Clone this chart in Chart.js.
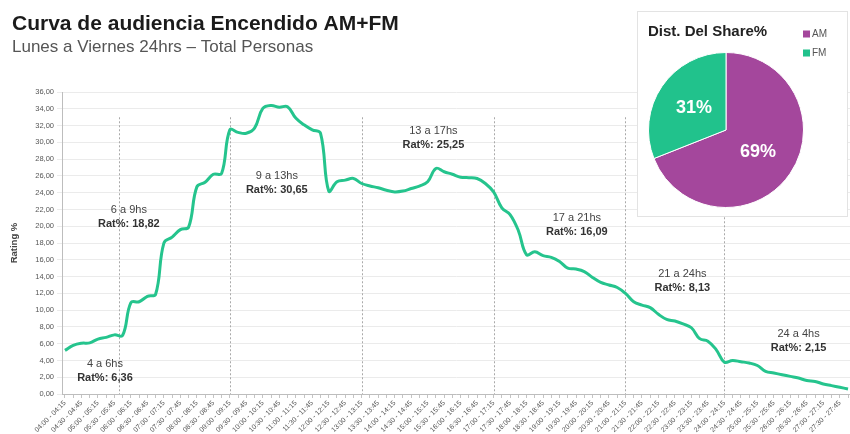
<!DOCTYPE html>
<html lang="es">
<head>
<meta charset="utf-8">
<title>Curva de audiencia Encendido AM+FM</title>
<script src="https://cdn.jsdelivr.net/npm/chart.js@4.4.1/dist/chart.umd.min.js"></script>
<style>
  html, body { margin: 0; padding: 0; background: #fff; overflow: hidden; }
  #wrap { position: relative; width: 850px; height: 434px; }
  #curva { position: absolute; left: 0; top: 0; }
  #share { position: absolute; left: 637px; top: 11px; width: 211px; height: 206px;
           background: #fff; border: 1px solid #e3e3e3; box-sizing: border-box; }
  #torta { display: block; }
</style>
</head>
<body>
<div id="wrap">
  <canvas id="curva" width="850" height="434"></canvas>
  <div id="share"><canvas id="torta" width="209" height="204"></canvas></div>
</div>
<script>
// Franjas de 15 minutos, de 04:00 a 28:00 (04:00 del día siguiente)
const franjas = [
  "04:00 - 04:15","04:15 - 04:30","04:30 - 04:45","04:45 - 05:00",
  "05:00 - 05:15","05:15 - 05:30","05:30 - 05:45","05:45 - 06:00",
  "06:00 - 06:15","06:15 - 06:30","06:30 - 06:45","06:45 - 07:00",
  "07:00 - 07:15","07:15 - 07:30","07:30 - 07:45","07:45 - 08:00",
  "08:00 - 08:15","08:15 - 08:30","08:30 - 08:45","08:45 - 09:00",
  "09:00 - 09:15","09:15 - 09:30","09:30 - 09:45","09:45 - 10:00",
  "10:00 - 10:15","10:15 - 10:30","10:30 - 10:45","10:45 - 11:00",
  "11:00 - 11:15","11:15 - 11:30","11:30 - 11:45","11:45 - 12:00",
  "12:00 - 12:15","12:15 - 12:30","12:30 - 12:45","12:45 - 13:00",
  "13:00 - 13:15","13:15 - 13:30","13:30 - 13:45","13:45 - 14:00",
  "14:00 - 14:15","14:15 - 14:30","14:30 - 14:45","14:45 - 15:00",
  "15:00 - 15:15","15:15 - 15:30","15:30 - 15:45","15:45 - 16:00",
  "16:00 - 16:15","16:15 - 16:30","16:30 - 16:45","16:45 - 17:00",
  "17:00 - 17:15","17:15 - 17:30","17:30 - 17:45","17:45 - 18:00",
  "18:00 - 18:15","18:15 - 18:30","18:30 - 18:45","18:45 - 19:00",
  "19:00 - 19:15","19:15 - 19:30","19:30 - 19:45","19:45 - 20:00",
  "20:00 - 20:15","20:15 - 20:30","20:30 - 20:45","20:45 - 21:00",
  "21:00 - 21:15","21:15 - 21:30","21:30 - 21:45","21:45 - 22:00",
  "22:00 - 22:15","22:15 - 22:30","22:30 - 22:45","22:45 - 23:00",
  "23:00 - 23:15","23:15 - 23:30","23:30 - 23:45","23:45 - 24:00",
  "24:00 - 24:15","24:15 - 24:30","24:30 - 24:45","24:45 - 25:00",
  "25:00 - 25:15","25:15 - 25:30","25:30 - 25:45","25:45 - 26:00",
  "26:00 - 26:15","26:15 - 26:30","26:30 - 26:45","26:45 - 27:00",
  "27:00 - 27:15","27:15 - 27:30","27:30 - 27:45","27:45 - 28:00"
];

// Rating % por franja (Lunes a Viernes, Total Personas)
const rating = [
   5.20,  5.80,  6.05,  6.10,  6.55,  6.75,  7.05,  7.00,
  10.90, 11.00, 11.65, 11.90, 18.00, 18.70, 19.60, 19.90,
  24.70, 25.25, 26.20, 26.30, 31.50, 31.20, 31.10, 31.70,
  34.05, 34.40, 34.20, 34.25, 32.90, 32.10, 31.50, 31.10,
  24.20, 25.30, 25.50, 25.70, 25.10, 24.80, 24.60, 24.30,
  24.10, 24.20, 24.50, 24.80, 25.30, 26.90, 26.50, 26.20,
  25.85, 25.80, 25.70, 25.10, 24.10, 22.20, 21.40, 19.50,
  16.60, 16.95, 16.50, 16.30, 15.80, 15.00, 14.90, 14.60,
  13.90, 13.30, 13.00, 12.70, 12.00, 11.00, 10.60, 10.30,
   9.50,  8.90,  8.70,  8.35,  7.90,  6.60,  6.30,  5.30,
   3.80,  4.00,  3.85,  3.70,  3.40,  2.70,  2.50,  2.30,
   2.10,  1.90,  1.60,  1.50,  1.20,  1.00,  0.80,  0.60
];

// Bloques horarios y su rating promedio
const bloques = ["4 a 6hs", "6 a 9hs", "9 a 13hs", "13 a 17hs", "17 a 21hs", "21 a 24hs", "24 a 4hs"];
const ratingBloque = [6.36, 18.82, 30.65, 25.25, 16.09, 8.13, 2.15];

// Distribución del share
const shareLabels = ["AM", "FM"];
const shareValues = [69, 31];

// ---- presentación ----
const FUENTE = '"Liberation Sans", Arial, Helvetica, sans-serif';
Chart.defaults.font.family = FUENTE;

const VERDE = '#25c48d';
const VIOLETA = '#a4479c';
const coma = (v) => v.toFixed(2).replace('.', ',');

// separadores de bloque (en unidades del eje x) y altura en que arrancan
const separadores = [6.6, 20, 36, 52, 68, 80];
const topeSeparador = 33;
// anclaje de cada rótulo de bloque: [franja, rating]
const anclaRotulo = [[4.85, 3.6], [7.75, 22.0], [25.7, 26.0], [44.7, 31.4], [62.1, 21.0], [74.9, 14.3], [89.0, 7.2]];

const lineasBloque = {
  id: 'lineasBloque',
  beforeDatasetsDraw(chart) {
    const { ctx, scales: { x, y } } = chart;
    ctx.save();
    ctx.strokeStyle = '#a9a9a9';
    ctx.lineWidth = 1;
    ctx.setLineDash([2, 2]);
    separadores.forEach((p) => {
      const px = Math.round(x.getPixelForValue(p)) + 0.5;
      ctx.beginPath();
      ctx.moveTo(px, y.getPixelForValue(topeSeparador));
      ctx.lineTo(px, y.getPixelForValue(0));
      ctx.stroke();
    });
    ctx.restore();
  }
};

const rotulosBloque = {
  id: 'rotulosBloque',
  afterDatasetsDraw(chart) {
    const { ctx, scales: { x, y } } = chart;
    ctx.save();
    ctx.textAlign = 'center';
    ctx.textBaseline = 'middle';
    bloques.forEach((b, i) => {
      const px = x.getPixelForValue(anclaRotulo[i][0]);
      const py = y.getPixelForValue(anclaRotulo[i][1]);
      ctx.fillStyle = '#444';
      ctx.font = '11px ' + FUENTE;
      ctx.fillText(b, px, py);
      ctx.fillStyle = '#333';
      ctx.font = 'bold 11px ' + FUENTE;
      ctx.fillText('Rat%: ' + coma(ratingBloque[i]), px, py + 14);
    });
    ctx.restore();
  }
};

new Chart(document.getElementById('curva'), {
  type: 'line',
  data: {
    datasets: [{
      data: rating.map((v, i) => ({ x: i, y: v })),
      borderColor: VERDE,
      borderWidth: 3,
      tension: 0.4,
      pointRadius: 0,
      fill: false
    }]
  },
  options: {
    responsive: false,
    animation: false,
    events: [],
    layout: { padding: { left: 12, right: 0, top: 0, bottom: 0 } },
    plugins: {
      legend: { display: false },
      tooltip: { enabled: false },
      title: {
        display: true, align: 'start', text: 'Curva de audiencia Encendido AM+FM',
        color: '#1b1b1b', font: { size: 21, weight: 'bold' }, padding: { top: 11.5, bottom: 0 }
      },
      subtitle: {
        display: true, align: 'start', text: 'Lunes a Viernes 24hrs \u2013 Total Personas',
        color: '#555', font: { size: 17 }, padding: { top: 0, bottom: 35 }
      }
    },
    scales: {
      x: {
        type: 'linear', min: -0.36, max: 95.24,
        afterFit(s) { s.height = 40; s.paddingLeft = 0; s.paddingRight = 0; },
        grid: { drawOnChartArea: false, drawTicks: true, tickLength: 4, color: '#c4c4c4' },
        border: { color: '#bdbdbd' },
        ticks: {
          stepSize: 1, autoSkip: false, includeBounds: false,
          minRotation: 45, maxRotation: 45, padding: 1,
          color: '#555', font: { size: 7 },
          callback: (v) => (Number.isInteger(v) && v % 2 === 0) ? franjas[v] : ''
        }
      },
      y: {
        min: 0, max: 36,
        afterFit(s) { s.width = 50; s.paddingTop = 0; s.paddingBottom = 0; },
        grid: { color: '#ebebeb', tickLength: 5 },
        border: { color: '#bdbdbd' },
        ticks: { stepSize: 2, padding: 3, color: '#555', font: { size: 7.5 }, callback: (v) => coma(v) },
        title: {
          display: true, text: 'Rating %', color: '#444',
          font: { size: 9.5, weight: 'bold' }, padding: { top: -3, bottom: 0 }
        }
      }
    }
  },
  plugins: [lineasBloque, rotulosBloque]
});

// ---- torta: distribución del share ----
const rotulosTorta = {
  id: 'rotulosTorta',
  afterDatasetsDraw(chart) {
    const { ctx } = chart;
    const meta = chart.getDatasetMeta(0);
    ctx.save();
    ctx.textAlign = 'center';
    ctx.textBaseline = 'middle';
    ctx.fillStyle = '#fff';
    ctx.font = 'bold 18px ' + FUENTE;
    meta.data.forEach((arc, i) => {
      const p = arc.getCenterPoint();
      ctx.fillText(shareValues[i] + '%', p.x, p.y);
    });
    // título
    ctx.textAlign = 'left';
    ctx.fillStyle = '#222';
    ctx.font = 'bold 15px ' + FUENTE;
    ctx.fillText('Dist. Del Share%', 10, 20);
    // leyenda
    ctx.font = '10px ' + FUENTE;
    shareLabels.forEach((l, i) => {
      const yy = 22 + i * 19;
      ctx.fillStyle = chart.data.datasets[0].backgroundColor[i];
      ctx.fillRect(165, yy - 3.5, 7, 7);
      ctx.fillStyle = '#555';
      ctx.fillText(l, 174, yy);
    });
    ctx.restore();
  }
};

new Chart(document.getElementById('torta'), {
  type: 'pie',
  data: {
    labels: shareLabels,
    datasets: [{
      data: shareValues,
      backgroundColor: [VIOLETA, '#21c28c'],
      borderColor: '#fff',
      borderWidth: 1
    }]
  },
  options: {
    responsive: false,
    animation: false,
    events: [],
    layout: { padding: { left: 10, top: 40, right: 43, bottom: 8 } },
    plugins: { legend: { display: false }, tooltip: { enabled: false } }
  },
  plugins: [rotulosTorta]
});
</script>
</body>
</html>
